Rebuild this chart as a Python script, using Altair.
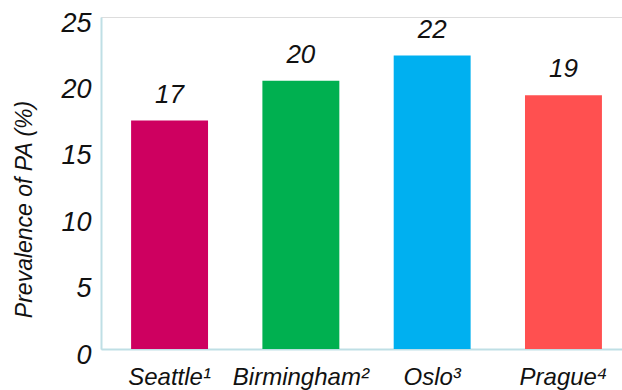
import altair as alt
import pandas as pd

cities = ["Seattle¹", "Birmingham²", "Oslo³", "Prague⁴"]
values = [17.2, 20.2, 22.1, 19.1]
labels = ["17", "20", "22", "19"]
colors = ["#CE0060", "#00B050", "#00B0F0", "#FF5050"]

df = pd.DataFrame({"city": cities, "value": values, "label": labels, "color": colors})

FONT = "Liberation Sans"
AXIS_COLOR = "#BFDFE5"

x = alt.X("city:N", sort=cities,
          scale=alt.Scale(paddingInner=0.414, paddingOuter=0.191, align=0.6),
          axis=alt.Axis(title=None, labelAngle=0, labelFont=FONT, labelFontSize=24,
                        labelFontStyle="italic", labelColor="#111111", ticks=False,
                        labelPadding=16, domainColor=AXIS_COLOR, domainWidth=2))

bars = alt.Chart(df).mark_bar().encode(
    x=x,
    y=alt.Y("value:Q", scale=alt.Scale(domain=[0, 25], nice=False),
            axis=alt.Axis(title="Prevalence of PA (%)", values=[0, 5, 10, 15, 20, 25],
                          grid=False, ticks=False, labelFont=FONT, labelFontSize=27,
                          labelFontStyle="italic", labelColor="#111111", labelPadding=10,
                          labelOffset=6, domainColor=AXIS_COLOR, domainWidth=2,
                          titleFont=FONT, titleFontSize=23, titleFontStyle="italic",
                          titleFontWeight="normal", titleColor="#111111",
                          titleAngle=270, titleAlign="center", titleBaseline="middle",
                          titleX=-77, titleY=192)),
    color=alt.Color("color:N", scale=None),
)

text = alt.Chart(df).mark_text(font=FONT, fontSize=26, fontStyle="italic",
                               color="#111111", dy=-13, baseline="bottom").encode(
    x=alt.X("city:N", sort=cities),
    y="value:Q",
    text="label:N",
)

chart = (bars + text).properties(
    width=521, height=332,
    padding={"left": 101, "top": 17, "right": 0, "bottom": 41},
).configure_view(stroke=None).configure(autosize=alt.AutoSizeParams(type="none"))

chart.save("out.html", embed_options={"renderer": "svg", "actions": False})
